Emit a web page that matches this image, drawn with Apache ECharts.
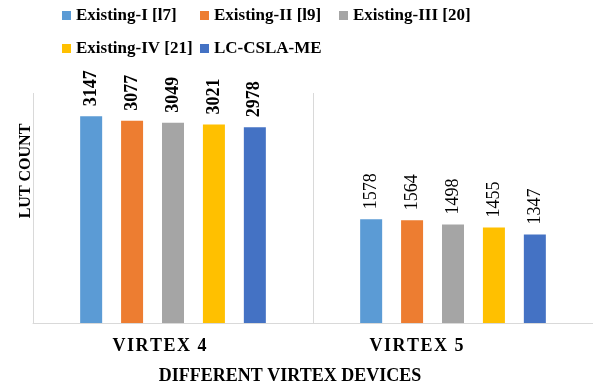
<!DOCTYPE html>
<html>
<head>
<meta charset="utf-8">
<script src="https://cdn.jsdelivr.net/npm/echarts@6/dist/echarts.min.js"></script>
<style>
  html, body { margin: 0; padding: 0; background: #fff; }
  #chart { width: 593px; height: 389px; }
</style>
</head>
<body>
<div id="chart"></div>
<script>
// LUT usage per design on two Virtex device families
const devices = ['VIRTEX 4', 'VIRTEX 5'];
const seriesNames = ['Existing-I [l7]', 'Existing-II [l9]', 'Existing-III [20]', 'Existing-IV [21]', 'LC-CSLA-ME'];
const existingI = [3147, 1578];
const existingII = [3077, 1564];
const existingIII = [3049, 1498];
const existingIV = [3021, 1455];
const lcCslaMe = [2978, 1347];
const yAxisName = 'LUT COUNT';
const xAxisName = 'DIFFERENT VIRTEX DEVICES';

const seriesValues = [existingI, existingII, existingIII, existingIV, lcCslaMe];
const colors = ['#5B9BD5', '#ED7D31', '#A5A5A5', '#FFC000', '#4472C4'];
const serif = '"Liberation Serif", "Times New Roman", serif';

// label weight per device group: first group bold, second regular
const labelWeights = ['bold', 'normal'];

const series = seriesNames.map((name, i) => ({
  name: name,
  type: 'bar',
  barWidth: 22,
  barGap: '86%',
  itemStyle: { color: colors[i] },
  label: {
    show: true,
    position: 'top',
    rotate: 90,
    align: 'left',
    verticalAlign: 'middle',
    distance: 10,
    fontFamily: serif,
    fontSize: 18,
    color: '#000'
  },
  data: seriesValues[i].map((v, j) => ({
    value: v,
    label: { fontWeight: labelWeights[j] }
  }))
}));

// legend laid out on a two-row grid of columns
const legendSlots = [
  { left: 62, top: 7 }, { left: 200, top: 7 }, { left: 339, top: 7 },
  { left: 62, top: 40 }, { left: 200, top: 40 }
];
const legends = seriesNames.map((name, i) => ({
  data: [name],
  left: legendSlots[i].left,
  top: legendSlots[i].top,
  padding: 0,
  icon: 'rect',
  itemWidth: 9,
  itemHeight: 9,
  textStyle: { fontFamily: serif, fontSize: 17, fontWeight: 'bold', color: '#000' }
}));

const spaced = s => s.split('').join('\u200A');

const option = {
  animation: false,
  backgroundColor: '#fff',
  legend: legends,
  grid: { left: 33, top: 93, width: 562, bottom: 66, containLabel: false },
  xAxis: {
    type: 'category',
    data: devices,
    axisLine: { show: true, lineStyle: { color: '#D9D9D9', width: 1 } },
    axisTick: { show: false },
    splitLine: { show: true, lineStyle: { color: '#D9D9D9', width: 1 } },
    axisLabel: {
      margin: 14,
      formatter: (v, idx) => '{l' + idx + '|' + spaced(v) + '}',
      rich: {
        l0: { fontFamily: serif, fontSize: 18, fontWeight: 'bold', color: '#000', padding: [0, 27, 0, 0] },
        l1: { fontFamily: serif, fontSize: 18, fontWeight: 'bold', color: '#000', padding: [0, 73, 0, 0] }
      }
    }
  },
  yAxis: {
    type: 'value',
    min: 0,
    max: 3500,
    axisLine: { show: false },
    axisTick: { show: false },
    axisLabel: { show: false },
    splitLine: { show: false }
  },
  graphic: [
    {
      type: 'text',
      x: 26,
      y: 171,
      rotation: Math.PI / 2,
      style: {
        text: yAxisName,
        fontFamily: serif,
        fontSize: 16,
        fontWeight: 'bold',
        fill: '#000',
        align: 'center',
        verticalAlign: 'middle'
      }
    },
    {
      type: 'text',
      x: 290,
      y: 376,
      style: {
        text: xAxisName,
        fontFamily: serif,
        fontSize: 18,
        fontWeight: 'bold',
        fill: '#000',
        align: 'center',
        verticalAlign: 'middle'
      }
    }
  ],
  series: series
};

const chart = echarts.init(document.getElementById('chart'), null, { renderer: 'canvas' });
chart.setOption(option);
</script>
</body>
</html>
